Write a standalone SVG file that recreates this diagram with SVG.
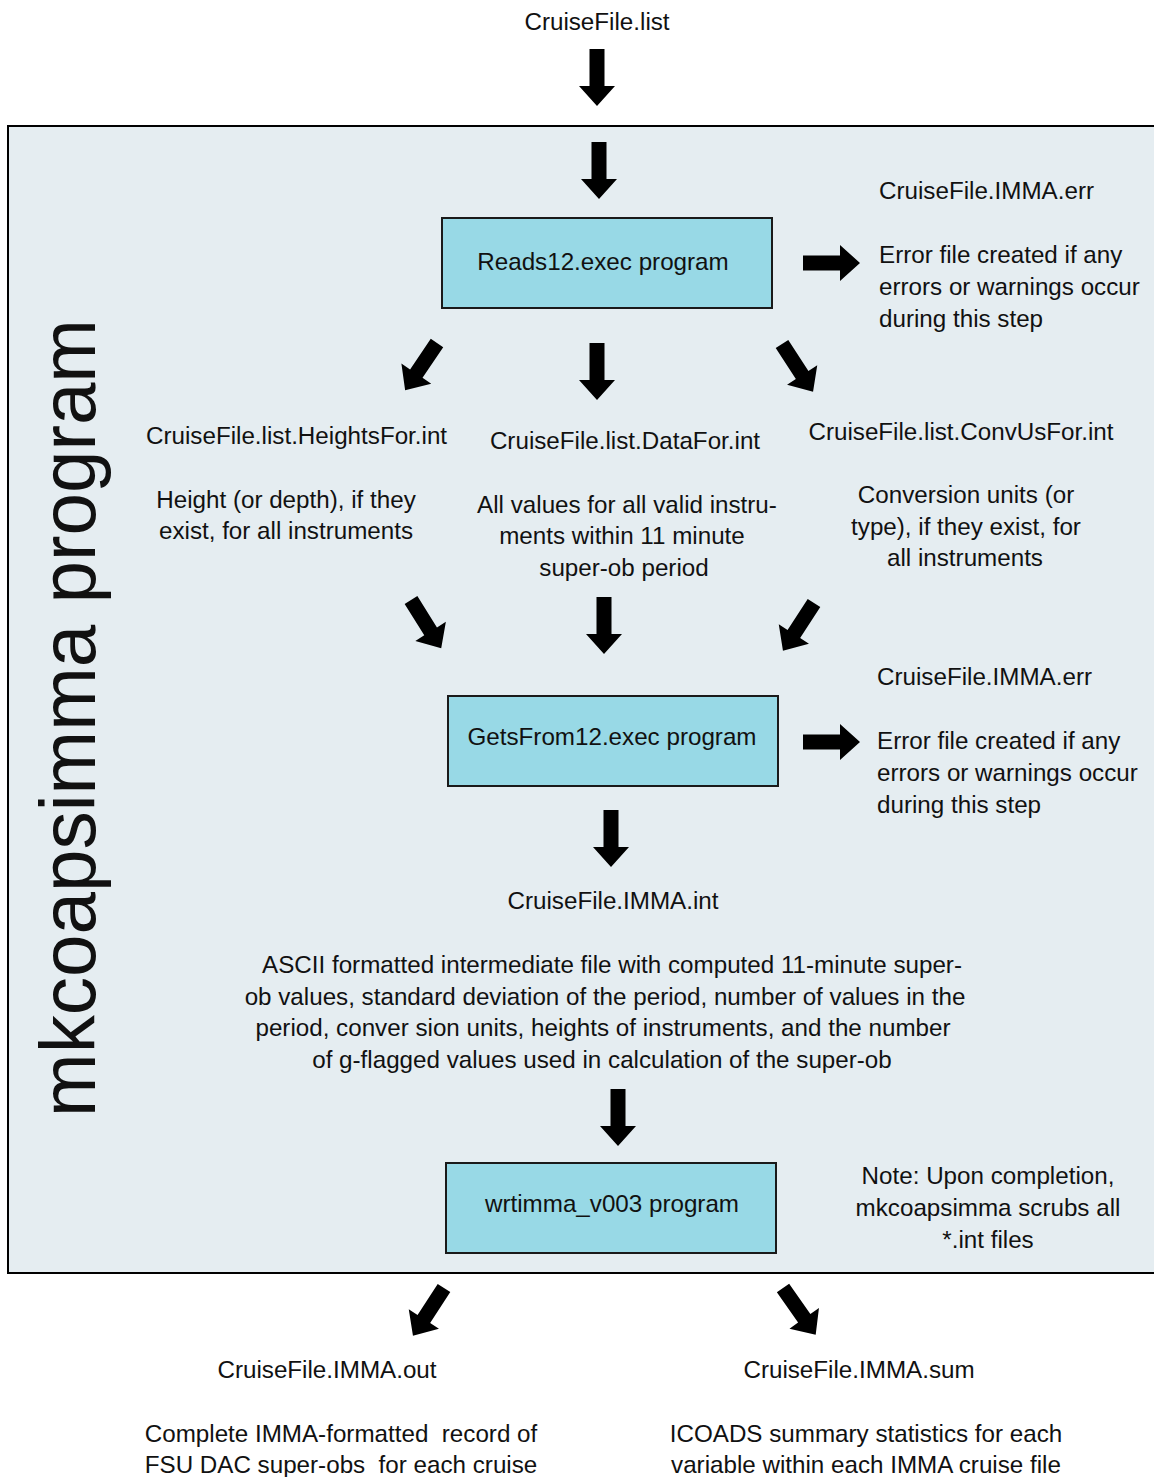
<svg xmlns="http://www.w3.org/2000/svg" xmlns:xlink="http://www.w3.org/1999/xlink" width="1154" height="1477" viewBox="0 0 1154 1477">
<style>
text{font-family:"Liberation Sans",Arial,sans-serif;font-size:24.2px;fill:#111;white-space:pre}
.c{text-anchor:middle}
.box{fill:#98d9e6;stroke:#1a1a1a;stroke-width:2}
.arr{fill:#000}
</style>
<defs>
<path id="a" class="arr" d="M-7.5,0 H7.5 V37 H18 L0,57 L-18,37 H-7.5 Z"/>
</defs>
<rect x="0" y="0" width="1154" height="1477" fill="#fff"/>
<g id="frame">
<rect x="8" y="126" width="1160" height="1147" fill="#e5edf1" stroke="#000" stroke-width="2"/>
<text transform="translate(95,1117) rotate(-90)" style="font-size:78px" textLength="798" lengthAdjust="spacingAndGlyphs">mkcoapsimma program</text>
</g>
<g id="connectors">
<use xlink:href="#a" transform="translate(597,49)"/>
<use xlink:href="#a" transform="translate(599,142)"/>
<use xlink:href="#a" transform="translate(803,263) rotate(-90)"/>
<use xlink:href="#a" transform="translate(437,343) rotate(34)"/>
<use xlink:href="#a" transform="translate(597,343)"/>
<use xlink:href="#a" transform="translate(782,344) rotate(-33)"/>
<use xlink:href="#a" transform="translate(411,600) rotate(-32)"/>
<use xlink:href="#a" transform="translate(604,597)"/>
<use xlink:href="#a" transform="translate(814,603) rotate(33)"/>
<use xlink:href="#a" transform="translate(803,742) rotate(-90)"/>
<use xlink:href="#a" transform="translate(611,810)"/>
<use xlink:href="#a" transform="translate(618,1089)"/>
<use xlink:href="#a" transform="translate(444,1288) rotate(33)"/>
<use xlink:href="#a" transform="translate(783,1288) rotate(-35)"/>
</g>
<g id="input"><text class="c" x="597" y="30">CruiseFile.list</text></g>
<g id="reads12">
<rect class="box" x="442" y="218" width="330" height="90"/>
<text class="c" x="603" y="270">Reads12.exec program</text>
</g>
<g id="err1">
<text x="879" y="199">CruiseFile.IMMA.err</text>
<text x="879" y="263">Error file created if any</text>
<text x="879" y="295">errors or warnings occur</text>
<text x="879" y="327">during this step</text>
</g>
<g id="heights">
<text x="146" y="444">CruiseFile.list.HeightsFor.int</text>
<text class="c" x="286" y="508">Height (or depth), if they</text>
<text class="c" x="286" y="539">exist, for all instruments</text>
</g>
<g id="data">
<text class="c" x="625" y="449">CruiseFile.list.DataFor.int</text>
<text class="c" x="627" y="513">All values for all valid instru-</text>
<text class="c" x="622" y="544">ments within 11 minute</text>
<text class="c" x="624" y="576">super-ob period</text>
</g>
<g id="convus">
<text class="c" x="961" y="440">CruiseFile.list.ConvUsFor.int</text>
<text class="c" x="966" y="503">Conversion units (or</text>
<text class="c" x="966" y="535">type), if they exist, for</text>
<text class="c" x="965" y="566">all instruments</text>
</g>
<g id="getsfrom">
<rect class="box" x="448" y="696" width="330" height="90"/>
<text class="c" x="612" y="745">GetsFrom12.exec program</text>
</g>
<g id="err2">
<text x="877" y="685">CruiseFile.IMMA.err</text>
<text x="877" y="749">Error file created if any</text>
<text x="877" y="781">errors or warnings occur</text>
<text x="877" y="813">during this step</text>
</g>
<g id="immaint">
<text class="c" x="613" y="909">CruiseFile.IMMA.int</text>
<text class="c" x="612" y="973">ASCII formatted intermediate file with computed 11-minute super-</text>
<text class="c" x="605" y="1005">ob values, standard deviation of the period, number of values in the</text>
<text class="c" x="603" y="1036">period, conver sion units, heights of instruments, and the number</text>
<text class="c" x="602" y="1068">of g-flagged values used in calculation of the super-ob</text>
</g>
<g id="wrtimma">
<rect class="box" x="446" y="1163" width="330" height="90"/>
<text class="c" x="612" y="1212">wrtimma_v003 program</text>
</g>
<g id="note">
<text class="c" x="988" y="1184">Note: Upon completion,</text>
<text class="c" x="988" y="1216">mkcoapsimma scrubs all</text>
<text class="c" x="988" y="1248">*.int files</text>
</g>
<g id="out">
<text class="c" x="327" y="1378">CruiseFile.IMMA.out</text>
<text class="c" x="341" y="1442">Complete IMMA-formatted  record of</text>
<text class="c" x="341" y="1473">FSU DAC super-obs  for each cruise</text>
</g>
<g id="sum">
<text class="c" x="859" y="1378">CruiseFile.IMMA.sum</text>
<text class="c" x="866" y="1442">ICOADS summary statistics for each</text>
<text class="c" x="866" y="1473">variable within each IMMA cruise file</text>
</g>
</svg>
